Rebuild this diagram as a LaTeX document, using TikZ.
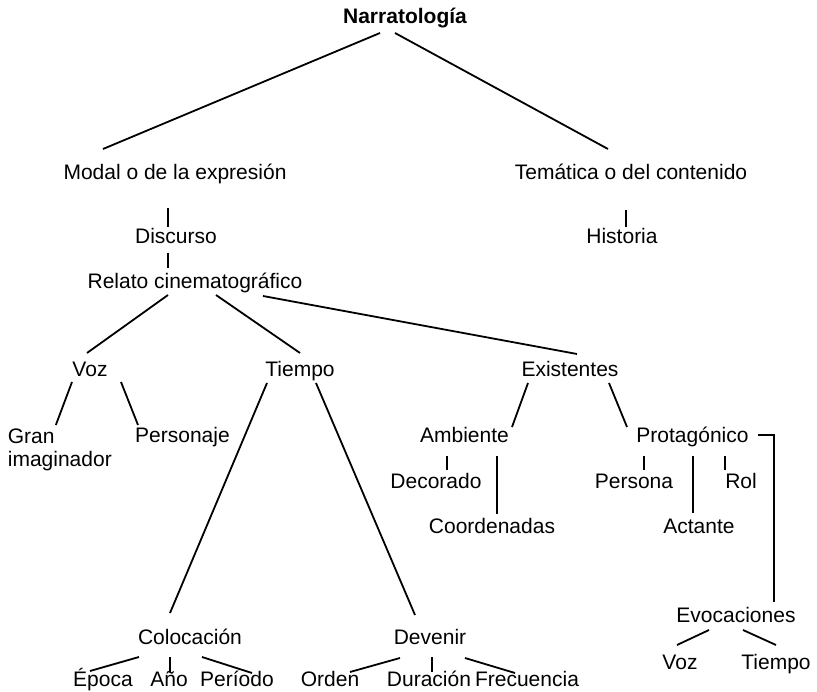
\documentclass[tikz,border=0pt]{standalone}
\usepackage{fontspec}
\setmainfont{Liberation Sans}
\usetikzlibrary{calc}

\begin{document}
\begin{tikzpicture}[x=1pt,y=-1pt,line width=1.8pt,
       every node/.style={inner sep=0pt,anchor=base},
       font=\fontsize{21}{23}\selectfont]
       \useasboundingbox (0,0) rectangle (817,692);
       % niveles superiores
       \node (narr)   at (405,24)  {\bfseries Narratología};
       \node (modal)  at (175,180) {Modal o de la expresión};
       \node (tema)   at (631,180) {Temática o del contenido};
       \node (disc)   at (176,244) {Discurso};
       \node (hist)   at (622,244) {Historia};
       \node (relato) at (195,289) {Relato cinematográfico};
       \node (voz)    at (90,377)  {Voz};
       \node (tiempo) at (300,377) {Tiempo};
       \node (exist)  at (570,377) {Existentes};
       \node[anchor=north west,align=left] (gran) at (7,428) {Gran\\imaginador};
       \node (pers)   at (182.5,443) {Personaje};
       \node (amb)    at (464.5,443) {Ambiente};
       \node (prot)   at (692.5,443) {Protagónico};
       \node (deco)   at (436,489) {Decorado};
       \node (persona) at (634,489) {Persona};
       \node (rol)    at (741,489) {Rol};
       \node (coord)  at (492,533) {Coordenadas};
       \node (actante) at (699,533) {Actante};
       \node (evoc)   at (736,622) {Evocaciones};
       \node (voz2)   at (680,669) {Voz};
       \node (tiempo2) at (776,669) {Tiempo};
       \node (coloc)  at (190,644) {Colocación};
       \node (deven)  at (430,644) {Devenir};
       \node (epoca)  at (103,686) {Época};
       \node (anio)   at (169,686) {Año};
       \node (periodo) at (237,686) {Período};
       \node (orden)  at (330,686) {Orden};
       \node (durac)  at (429,686) {Duración};
       \node (frec)   at (527,686) {Frecuencia};
       % ramas
       \draw ($(narr.base)+(-25,9)$) -- ($(modal.base)+(-72,-31)$);
       \draw ($(narr.base)+(-10,9)$) -- ($(tema.base)+(-23,-31)$);
       \draw ($(modal.base)+(-7,28)$) -- ($(disc.base)+(-8,-17)$);
       \draw ($(disc.base)+(-8,9)$) -- ($(relato.base)+(-27,-21)$);
       \draw ($(tema.base)+(-5,30)$) -- ($(hist.base)+(4,-17)$);
       \draw ($(relato.base)+(-27,6)$) -- ($(voz.base)+(-3,-24)$);
       \draw ($(relato.base)+(21,6)$) -- ($(tiempo.base)+(0,-24)$);
       \draw ($(relato.base)+(68,7)$) -- ($(exist.base)+(7,-23)$);
       \draw ($(voz.base)+(-18,5)$) -- ($(gran.north)+(-4,-3)$);
       \draw ($(voz.base)+(31,5)$) -- ($(pers.base)+(-44.5,-18)$);
       \draw ($(tiempo.base)+(-33,6)$) -- ($(coloc.base)+(-20,-31)$);
       \draw ($(tiempo.base)+(16,6)$) -- ($(deven.base)+(-15,-29)$);
       \draw ($(exist.base)+(-42,6)$) -- ($(amb.base)+(47.5,-16)$);
       \draw ($(exist.base)+(39,6)$) -- ($(prot.base)+(-65.5,-16)$);
       \draw ($(amb.base)+(-17.5,13)$) -- ($(deco.base)+(11,-19)$);
       \draw ($(amb.base)+(32.5,13)$) -- ($(coord.base)+(5,-19)$);
       \draw ($(prot.base)+(-48.5,13)$) -- ($(persona.base)+(10,-19)$);
       \draw ($(prot.base)+(0.5,13)$) -- ($(actante.base)+(-6,-20)$);
       \draw ($(prot.base)+(32.5,13)$) -- ($(rol.base)+(-16,-19)$);
       \draw ($(prot.base)+(65.5,-8)$) -| ($(evoc.base)+(38,-20)$);
       \draw ($(evoc.base)+(-27,8)$) -- ($(voz2.base)+(-3,-24)$);
       \draw ($(evoc.base)+(7,8)$) -- ($(tiempo2.base)+(0,-24)$);
       \draw ($(coloc.base)+(-51,13)$) -- ($(epoca.base)+(-13,-15)$);
       \draw ($(coloc.base)+(-20,13)$) -- ($(anio.base)+(1,-14)$);
       \draw ($(coloc.base)+(12,13)$) -- ($(periodo.base)+(15,-13)$);
       \draw ($(deven.base)+(-30,14)$) -- ($(orden.base)+(20,-14)$);
       \draw ($(deven.base)+(2,13)$) -- ($(durac.base)+(3,-14)$);
       \draw ($(deven.base)+(35,14)$) -- ($(frec.base)+(-12,-13)$);
\end{tikzpicture}
\end{document}
